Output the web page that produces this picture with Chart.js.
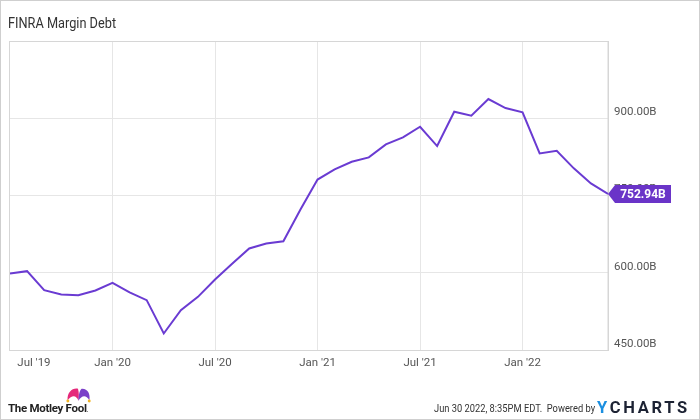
<!DOCTYPE html>
<html>
<head>
<meta charset="utf-8">
<script src="https://cdn.jsdelivr.net/npm/chart.js@4.4.1/dist/chart.umd.min.js"></script>
<style>
  html, body { margin: 0; padding: 0; background: #fff; }
  #wrap { position: relative; width: 700px; height: 420px; overflow: hidden; background: #fff; }
  #chart { position: absolute; left: 0; top: 0; }
  #frame { position: absolute; left: 0; top: 0; width: 700px; height: 420px; box-sizing: border-box; border: 1px solid #cfcfcf; pointer-events: none; }
  #title { position: absolute; left: 8px; top: 15px; font: 14px Roboto, "Liberation Sans", sans-serif; color: #333; transform: scaleX(0.91); transform-origin: 0 0; white-space: nowrap; }
  #stamp { position: absolute; left: 434px; top: 401px; font: 11.5px Roboto, "Liberation Sans", sans-serif; color: #333; white-space: pre; transform: scaleX(0.81); transform-origin: 0 0; }
  #yc { position: absolute; left: 597px; top: 398px; font: 700 16.5px Roboto, "Liberation Sans", sans-serif; letter-spacing: 2.7px; color: #1c2233; }
  #yc span { color: #1b8fe0; }
  #fool { position: absolute; left: 8px; top: 401px; font: 700 11.5px Roboto, "Liberation Sans", sans-serif; color: #222; letter-spacing: -0.3px; white-space: nowrap; }
  #hat { position: absolute; left: 66px; top: 387px; }
</style>
</head>
<body>
<div id="wrap">
  <canvas id="chart" width="700" height="420"></canvas>
  <div id="title">FINRA Margin Debt</div>
  <svg id="hat" width="25" height="16" viewBox="0 0 24 15">
    <path d="M1.5 12.5 C1 5 6 0.5 11.5 1.5 C12.5 5 12.5 9 12 13 C10 8 6 7 1.5 12.5 Z" fill="#e5287a"/>
    <path d="M12 13 C12 8 13 3 15 1.5 C20.5 1 23.5 6 22.5 12.5 C19 7 15 8 12 13 Z" fill="#7a3fc8"/>
    <circle cx="1.8" cy="13.3" r="1.4" fill="#f2b526"/>
    <circle cx="22.3" cy="13.3" r="1.4" fill="#f2b526"/>
  </svg>
  <div id="fool">The Motley Fool<span style="font-weight:400;font-size:7px">.</span></div>
  <div id="stamp">Jun 30 2022, 8:35PM EDT.  Powered by</div>
  <div id="yc"><span>Y</span>CHARTS</div>
  <div id="frame"></div>
</div>
<script>
// Month-end observations, Jun 2019 .. May 2022 (billions USD)
const months = ["Jun 2019","Jul 2019","Aug 2019","Sep 2019","Oct 2019","Nov 2019","Dec 2019",
  "Jan 2020","Feb 2020","Mar 2020","Apr 2020","May 2020","Jun 2020","Jul 2020","Aug 2020","Sep 2020","Oct 2020","Nov 2020","Dec 2020",
  "Jan 2021","Feb 2021","Mar 2021","Apr 2021","May 2021","Jun 2021","Jul 2021","Aug 2021","Sep 2021","Oct 2021","Nov 2021","Dec 2021",
  "Jan 2022","Feb 2022","Mar 2022","Apr 2022","May 2022"];
const marginDebt = [598.6, 603.1, 566.2, 557.8, 556.5, 565.6, 580.4,
  562.0, 546.8, 482.1, 527.3, 553.2, 587.0, 617.5, 647.2, 656.7, 661.0, 723.0, 780.9,
  800.7, 815.5, 824.0, 849.3, 862.9, 883.5, 846.0, 912.6, 904.9, 937.3, 919.8, 911.5,
  831.8, 836.9, 802.7, 773.5, 752.94];
// x tick labels and their month positions (months after Jun 2019 month-end)
const xTickLabels = ["Jul '19", "Jan '20", "Jul '20", "Jan '21", "Jul '21", "Jan '22"];
const xTickMonths = [1.4, 6, 12, 18, 24, 30];
const yTicks = [450, 600, 750, 900];
const yMin = 450, yMax = 1050;

const LINE = '#6a3bd2';
const GRID = '#e6e6e6';
const BORDER = '#d6d6d6';
const tickFont = { family: 'Roboto, "Liberation Sans", sans-serif', size: 11.5 };

const points = marginDebt.map((v, i) => ({ x: i, y: v }));

const frameBox = {
  id: 'frameBox',
  beforeDatasetsDraw(chart) {
    const { ctx, chartArea: a } = chart;
    ctx.save();
    ctx.strokeStyle = BORDER;
    ctx.lineWidth = 1;
    ctx.strokeRect(a.left - 0.5, a.top + 0.5, a.right - a.left + 0.5, a.bottom - a.top);
    ctx.restore();
  }
};

const lastLabel = {
  id: 'lastLabel',
  afterDraw(chart) {
    const { ctx, chartArea: a } = chart;
    const ys = chart.scales.y;
    const v = marginDebt[marginDebt.length - 1];
    const y = Math.round(ys.getPixelForValue(v));
    const tip = a.right;
    const x0 = tip + 7, w = 56, h = 18;
    ctx.save();
    ctx.fillStyle = '#6a34c8';
    ctx.beginPath();
    ctx.moveTo(tip, y);
    ctx.lineTo(x0, y - h / 2);
    ctx.lineTo(x0 + w, y - h / 2);
    ctx.lineTo(x0 + w, y + h / 2);
    ctx.lineTo(x0, y + h / 2);
    ctx.closePath();
    ctx.fill();
    ctx.fillStyle = '#fff';
    ctx.font = 'bold 12px Roboto, sans-serif';
    ctx.textBaseline = 'middle';
    ctx.textAlign = 'center';
    ctx.fillText(v.toFixed(2) + 'B', x0 + w / 2, y + 0.5);
    ctx.restore();
  }
};

new Chart(document.getElementById('chart'), {
  type: 'line',
  data: {
    datasets: [{
      label: 'FINRA Margin Debt',
      data: points,
      borderColor: LINE,
      borderWidth: 2,
      pointRadius: 0,
      tension: 0,
      fill: false
    }]
  },
  options: {
    responsive: false,
    animation: false,
    layout: { padding: { left: 10, right: 0, top: 41, bottom: 40 } },
    plugins: { legend: { display: false }, tooltip: { enabled: false }, title: { display: false } },
    scales: {
      x: {
        type: 'linear',
        min: 0,
        max: months.length - 1,
        afterBuildTicks(scale) { scale.ticks = xTickMonths.map(v => ({ value: v })); },
        afterFit(scale) { scale.height = 30; },
        ticks: {
          autoSkip: false,
          maxRotation: 0,
          padding: 6,
          color: '#555',
          font: tickFont,
          callback(value) { const i = xTickMonths.indexOf(value); return i >= 0 ? xTickLabels[i] : ''; }
        },
        grid: {
          drawTicks: false,
          color: ctx => (ctx.tick && Number.isInteger(ctx.tick.value)) ? GRID : 'rgba(0,0,0,0)',
          lineWidth: 1
        },
        border: { display: true, color: BORDER }
      },
      y: {
        position: 'right',
        min: yMin,
        max: yMax,
        afterBuildTicks(scale) { scale.ticks = yTicks.map(v => ({ value: v })); },
        afterFit(scale) { scale.width = 92; },
        ticks: {
          padding: 6,
          labelOffset: -6,
          color: '#555',
          font: tickFont,
          callback: v => v.toFixed(2) + 'B'
        },
        grid: { drawTicks: false, color: GRID, lineWidth: 1 },
        border: { display: true, color: BORDER }
      }
    }
  },
  plugins: [frameBox, lastLabel]
});
</script>
</body>
</html>
